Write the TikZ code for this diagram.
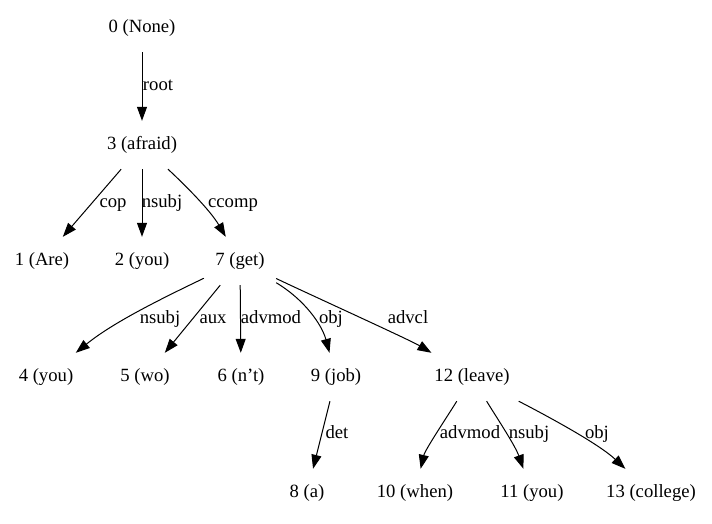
\documentclass[tikz,border=0pt]{standalone}
\usepackage{fontspec}
\setmainfont{Liberation Serif}
\usetikzlibrary{arrows.meta}
\begin{document}
\begin{tikzpicture}[x=1pt,y=-1pt,
  every node/.style={font=\fontsize{18.67}{22}\selectfont},
  tok/.style={rectangle,inner xsep=10pt,inner ysep=0pt,minimum width=72pt,minimum height=48pt},
  rel/.style={inner sep=1pt,text height=13pt,text depth=4pt},
  dep/.style={line width=1pt,-{Triangle[length=14pt,width=10pt]}}]
\useasboundingbox (0,0) rectangle (712,523);
% tokens
\node[tok] (n0)  at (142,28)  {0 (None)};
\node[tok] (n3)  at (142,145) {3 (afraid)};
\node[tok] (n1)  at (42,261)  {1 (Are)};
\node[tok] (n2)  at (142,261) {2 (you)};
\node[tok] (n7)  at (240,261) {7 (get)};
\node[tok] (n4)  at (46,377)  {4 (you)};
\node[tok] (n5)  at (145,377) {5 (wo)};
\node[tok] (n6)  at (241,377) {6 (n’t)};
\node[tok] (n9)  at (336,377) {9 (job)};
\node[tok] (n12) at (472,377) {12 (leave)};
\node[tok] (n8)  at (307,493) {8 (a)};
\node[tok] (n10) at (415,493) {10 (when)};
\node[tok] (n11) at (532,493) {11 (you)};
\node[tok] (n13) at (651,493) {13 (college)};
% dependencies
\draw[dep] (n0) -- (n3);
\draw[dep] (n3) -- (n1);
\draw[dep] (n3) -- (n2);
\draw[dep] (n3) .. controls (185,185) and (210,210) .. (n7);
\draw[dep] (n7) .. controls (150,304) and (110,325) .. (n4);
\draw[dep] (n7) -- (n5);
\draw[dep] (n7) -- (n6);
\draw[dep] (n7) .. controls (305,300) and (322,325) .. (n9);
\draw[dep] (n7) .. controls (300,290) and (410,340) .. (n12);
\draw[dep] (n9) -- (n8);
\draw[dep] (n12) .. controls (445,420) and (425,450) .. (n10);
\draw[dep] (n12) .. controls (495,415) and (515,445) .. (n11);
\draw[dep] (n12) .. controls (555,420) and (600,445) .. (n13);
% relation labels
\node[rel] (lroot)   at (158,86)  {root};
\node[rel] (lcop)    at (113,203) {cop};
\node[rel] (lnsubj1) at (162,203) {nsubj};
\node[rel] (lccomp)  at (233,203) {ccomp};
\node[rel] (lnsubj2) at (160,319) {nsubj};
\node[rel] (laux)    at (213,319) {aux};
\node[rel] (ladvmod1) at (271,319) {advmod};
\node[rel] (lobj1)   at (331,319) {obj};
\node[rel] (ladvcl)  at (408,319) {advcl};
\node[rel] (ldet)    at (337,434) {det};
\node[rel] (ladvmod2) at (470,434) {advmod};
\node[rel] (lnsubj3) at (529,434) {nsubj};
\node[rel] (lobj2)   at (597,434) {obj};
\end{tikzpicture}
\end{document}
